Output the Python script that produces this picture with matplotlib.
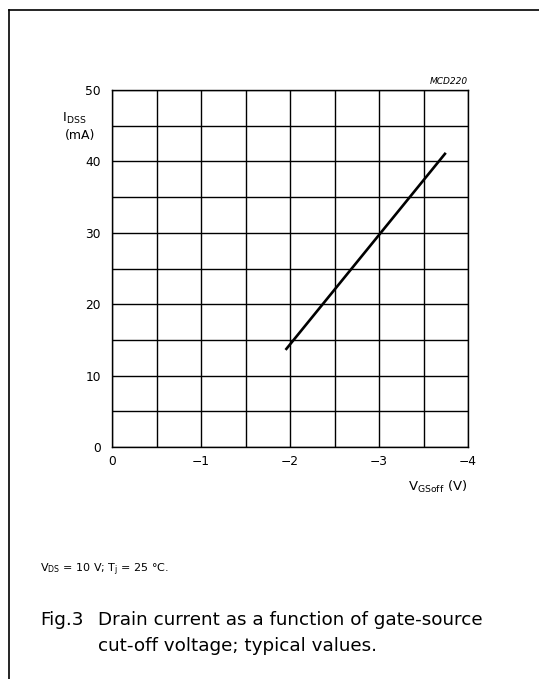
"""
IDSS vs VGSoff datasheet figure
"""

import matplotlib
matplotlib.use('Agg')
import matplotlib.pyplot as plt
from matplotlib.lines import Line2D

plt.rcParams['font.family'] = ['DejaVu Sans']
plt.rcParams['mathtext.fontset'] = 'dejavusans'
plt.rcParams['axes.unicode_minus'] = True

# data
vgs_off = [-1.95, -3.75]
idss = [13.6, 41.2]

x_ticks = [0, -1, -2, -3, -4]
x_labels = ['0', '\u22121', '\u22122', '\u22123', '\u22124']
y_ticks = [0, 10, 20, 30, 40, 50]

W, H = 539, 679
fig = plt.figure(figsize=(W / 100, H / 100), dpi=100)
fig.patch.set_facecolor('white')

# page frame (left and top edges only)
for xs, ys in [([9, 9], [10, 679]), ([9, 539], [10, 10])]:
    fig.add_artist(Line2D([x / W for x in xs], [1 - y / H for y in ys],
                          color='black', lw=1.2, transform=fig.transFigure))

ax = fig.add_axes([112 / W, 1 - 447 / H, 356 / W, 357 / H])
ax.plot(vgs_off, idss, color='black', lw=1.9, solid_capstyle='butt')

ax.set_xlim(0, -4)
ax.set_ylim(0, 50)
ax.set_xticks(x_ticks)
ax.set_xticklabels(x_labels)
ax.set_xticks([-0.5, -1.5, -2.5, -3.5], minor=True)
ax.set_yticks(y_ticks)
ax.set_yticks([5, 15, 25, 35, 45], minor=True)
ax.grid(which='both', color='black', lw=1.0)
ax.tick_params(which='both', length=0)
ax.tick_params(axis='x', pad=6, labelsize=8.8)
ax.tick_params(axis='y', pad=8, labelsize=8.8)
for s in ax.spines.values():
    s.set_linewidth(1.0)

# axis titles
fig.text(62 / W, 1 - 122 / H, r'I$_{\rm DSS}$', fontsize=9.5, ha='left', va='baseline')
fig.text(80 / W, 1 - 136 / H, '(mA)', fontsize=9, ha='center', va='center')
fig.text(467 / W, 1 - 491 / H, r'V$_{\rm GSoff}$ (V)', fontsize=9.5, ha='right', va='baseline')
fig.text(468 / W, 1 - 84 / H, 'MCD220', fontsize=6.5, style='italic', ha='right', va='baseline')

# notes and caption
fig.text(40 / W, 1 - 572 / H, r'V$_{\rm DS}$ = 10 V; T$_{\rm j}$ = 25 °C.', fontsize=8,
         ha='left', va='baseline')
fig.text(40 / W, 1 - 625 / H, 'Fig.3', fontsize=13.2, ha='left', va='baseline')
fig.text(98 / W, 1 - 625 / H, 'Drain current as a function of gate-source', fontsize=13.2,
         ha='left', va='baseline')
fig.text(98 / W, 1 - 651 / H, 'cut-off voltage; typical values.', fontsize=13.2,
         ha='left', va='baseline')

fig.savefig('out.png', dpi=100, facecolor='white')
